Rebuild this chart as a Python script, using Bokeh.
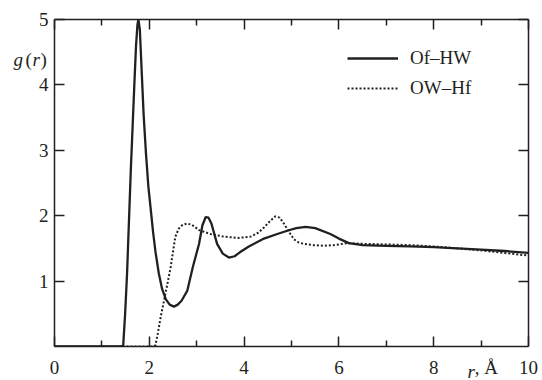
from bokeh.plotting import figure
from bokeh.models import (Range1d, LinearAxis, FixedTicker, Label, Legend, LegendItem)
from bokeh.embed import file_html
from bokeh.resources import INLINE

# ---- data ----
r_ofhw = [0, 1.40, 1.45, 1.49, 1.53, 1.57, 1.61, 1.65, 1.69, 1.72, 1.75, 1.77, 1.80,
          1.84, 1.88, 1.93, 1.98, 2.03, 2.08, 2.13, 2.20, 2.27, 2.35, 2.43, 2.52, 2.60,
          2.68, 2.80, 2.92, 3.05, 3.12, 3.19, 3.25, 3.31, 3.43, 3.55, 3.68, 3.80, 3.91,
          4.10, 4.42, 4.70, 4.91, 5.10, 5.30, 5.50, 5.82, 6.00, 6.21, 6.50, 7.00, 7.50,
          8.00, 8.50, 9.00, 9.50, 10.0]
g_ofhw = [0, 0, 0.02, 0.5, 1.1, 1.9, 2.7, 3.4, 4.1, 4.6, 4.92, 5.0, 4.85,
          4.2, 3.55, 2.95, 2.45, 2.1, 1.75, 1.45, 1.12, 0.88, 0.72, 0.64, 0.61, 0.64,
          0.70, 0.85, 1.22, 1.57, 1.85, 1.98, 1.97, 1.88, 1.57, 1.42, 1.36, 1.38, 1.44,
          1.53, 1.65, 1.72, 1.77, 1.81, 1.83, 1.81, 1.72, 1.65, 1.58, 1.55, 1.54, 1.53,
          1.52, 1.50, 1.48, 1.46, 1.43]

r_owhf = [0, 2.10, 2.13, 2.18, 2.24, 2.31, 2.38, 2.45, 2.50, 2.55, 2.62, 2.70, 2.80,
          2.90, 3.05, 3.29, 3.57, 3.88, 4.14, 4.30, 4.42, 4.55, 4.66, 4.75, 4.84, 4.95,
          5.05, 5.15, 5.26, 5.45, 5.68, 5.90, 6.17, 6.50, 7.00, 7.50, 8.00, 8.50, 9.00,
          9.50, 10.0]
g_owhf = [0, 0, 0.02, 0.2, 0.45, 0.70, 0.95, 1.21, 1.45, 1.68, 1.80, 1.86, 1.88,
          1.86, 1.78, 1.72, 1.68, 1.66, 1.68, 1.74, 1.82, 1.92, 1.99, 1.97, 1.88, 1.75,
          1.64, 1.59, 1.57, 1.55, 1.54, 1.55, 1.58, 1.57, 1.56, 1.55, 1.53, 1.50, 1.47,
          1.43, 1.39]

x_ticks = [0, 2, 4, 6, 8, 10]
x_minor = [1, 3, 5, 7, 9]
y_ticks = [1, 2, 3, 4, 5]
x_unit_pos = 9.11          # where the ", Å" part of the x title sits
x_unit_text = ", \u00c5"
series_names = ["Of\u2013HW", "OW\u2013Hf"]

INK = "#231f20"
SERIF = "Liberation Serif"
FS = "19px"

p = figure(width=542, height=380, output_backend="svg", toolbar_location=None,
           x_range=Range1d(0, 10), y_range=Range1d(0, 5),
           x_axis_location=None, y_axis_location=None,
           min_border_left=54, min_border_right=14, min_border_top=19, min_border_bottom=34)
p.xgrid.visible = False
p.ygrid.visible = False
p.outline_line_color = None
p.background_fill_color = "white"
p.border_fill_color = "white"


def ticks_only(ax, ticks, labels=False):
    ax.axis_line_color = INK
    ax.axis_line_width = 1.5
    ax.major_tick_line_color = INK
    ax.major_tick_line_width = 1.5
    ax.minor_tick_line_color = INK
    ax.minor_tick_line_width = 1.5
    ax.major_tick_in = 10
    ax.major_tick_out = 0
    ax.minor_tick_in = 6
    ax.minor_tick_out = 0
    if not labels:
        ax.major_label_overrides = {t: "" for t in ticks}
        ax.major_label_text_font_size = "1px"
        ax.major_label_standoff = 0


def labels_only(ax, standoff):
    ax.axis_line_color = None
    ax.major_tick_line_color = None
    ax.minor_tick_line_color = None
    ax.major_tick_in = 0
    ax.major_tick_out = 0
    ax.minor_tick_in = 0
    ax.minor_tick_out = 0
    ax.major_label_text_font = SERIF
    ax.major_label_text_font_size = FS
    ax.major_label_text_color = INK
    ax.major_label_standoff = standoff


# bottom: tick/line axis + label axis (numbers plus the unit part of the title)
bottom_ticks = LinearAxis(ticker=FixedTicker(ticks=x_ticks, minor_ticks=x_minor))
ticks_only(bottom_ticks, x_ticks)
bottom_labels = LinearAxis(ticker=FixedTicker(ticks=x_ticks + [x_unit_pos], minor_ticks=[]),
                           major_label_overrides={x_unit_pos: x_unit_text})
labels_only(bottom_labels, 10)
p.add_layout(bottom_ticks, "below")
p.add_layout(bottom_labels, "below")

top = LinearAxis(ticker=FixedTicker(ticks=x_ticks, minor_ticks=x_minor))
ticks_only(top, x_ticks)
p.add_layout(top, "above")

left = LinearAxis(ticker=FixedTicker(ticks=y_ticks, minor_ticks=[]))
ticks_only(left, y_ticks, labels=True)
left.major_label_text_font_size = FS
left.major_label_text_font = SERIF
left.major_label_text_color = INK
left.major_label_standoff = 6
p.add_layout(left, "left")

right = LinearAxis(ticker=FixedTicker(ticks=y_ticks, minor_ticks=[]))
ticks_only(right, y_ticks)
p.add_layout(right, "right")

l1 = p.line(r_ofhw, g_ofhw, line_color=INK, line_width=2.3)
l2 = p.line(r_owhf, g_owhf, line_color=INK, line_width=2.0, line_dash="2 2")

legend = Legend(items=[LegendItem(label=series_names[0], renderers=[l1]),
                       LegendItem(label=series_names[1], renderers=[l2])],
                location=(293, 247), orientation="vertical",
                label_text_font=SERIF, label_text_font_size=FS, label_text_color=INK,
                glyph_width=51, glyph_height=20, label_height=20, spacing=8,
                padding=0, margin=0, label_standoff=12,
                border_line_color=None, background_fill_alpha=0)
p.add_layout(legend)

# axis titles as canvas-positioned labels (side panels are not clipped to the frame)
for txt, xx, yy, style in [("g", 13, 59, "italic"), ("(", 25, 59, "normal"),
                           ("r", 32, 59, "italic"), (")", 40, 59, "normal")]:
    p.add_layout(Label(x=xx, y=yy, x_units="canvas", y_units="canvas", text=txt,
                       text_font=SERIF, text_font_size=FS,
                       text_font_style=style, text_color=INK,
                       text_align="left", text_baseline="alphabetic"), "left")

p.add_layout(Label(x=467, y=371, x_units="canvas", y_units="canvas", text="r",
                   text_font=SERIF, text_font_size=FS,
                   text_font_style="italic", text_color=INK,
                   text_align="left", text_baseline="alphabetic"), "right")

open("out.html", "w").write(file_html(p, INLINE))
